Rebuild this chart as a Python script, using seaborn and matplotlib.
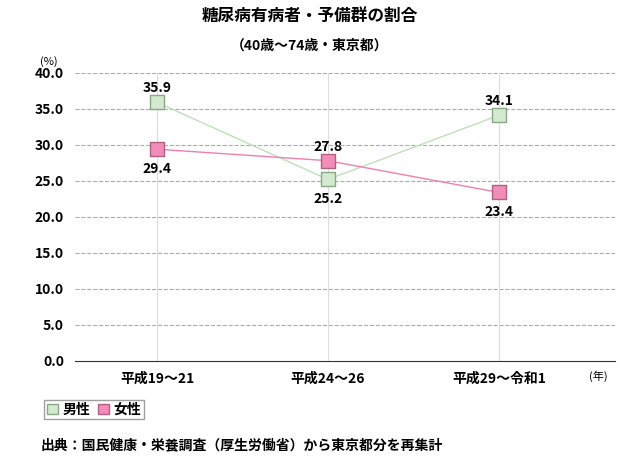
import matplotlib
matplotlib.use("Agg")
import matplotlib.pyplot as plt
import seaborn as sns
import pandas as pd

categories = ["平成19～21", "平成24～26", "平成29～令和1"]
male = [35.9, 25.2, 34.1]
female = [29.4, 27.8, 23.4]
yticks = [0, 5, 10, 15, 20, 25, 30, 35, 40]

plt.rcParams["font.family"] = "Noto Sans CJK JP"
fig = plt.figure(figsize=(6.2, 4.61), dpi=100)
ax = fig.add_axes([0.121, 0.217, 0.871, 0.625])

df = pd.DataFrame({"x": list(range(3)) * 2, "y": male + female,
                   "s": ["男性"] * 3 + ["女性"] * 3})
styles = {"男性": ("#bfe0b6", "#d3ead0", "#8aa886"), "女性": ("#f07fb0", "#f5a3c8", "#b06080")}
for s, (line_c, fill_c, edge_c) in styles.items():
    d = df[df.s == s]
    sns.lineplot(data=d, x="x", y="y", ax=ax, color=line_c, lw=1, zorder=3, legend=False)
    sns.scatterplot(data=d, x="x", y="y", ax=ax, marker="s", s=90, color=fill_c if s == "男性" else "#f28cb8",
                    edgecolor=edge_c, linewidth=1, zorder=4, legend=False)

offsets_m = [10, -14, 10]
offsets_f = [-14, 10, -14]
for i in range(3):
    ax.annotate(f"{male[i]:.1f}", (i, male[i]), xytext=(0, offsets_m[i]), textcoords="offset points",
                ha="center", va="center", fontsize=10, fontweight="bold")
    ax.annotate(f"{female[i]:.1f}", (i, female[i]), xytext=(0, offsets_f[i]), textcoords="offset points",
                ha="center", va="center", fontsize=10, fontweight="bold")

ax.set_xlim(-0.48, 2.68)
ax.set_ylim(0, 40)
ax.set_yticks(yticks)
ax.set_yticklabels([f"{v:.1f}" for v in yticks], fontsize=10, fontweight="bold")
ax.set_xticks(range(3))
ax.set_xticklabels(categories, fontsize=10, fontweight="bold")
ax.tick_params(length=0, pad=8)
ax.set_xlabel(""); ax.set_ylabel("")
for y in yticks[1:]:
    ax.axhline(y, color="#aaaaaa", ls="--", lw=0.8, zorder=1)
for x in range(3):
    ax.axvline(x, color="#dddddd", lw=0.8, zorder=1)
for k in ["top", "right", "left"]:
    ax.spines[k].set_visible(False)
ax.spines["bottom"].set_color("#333333")

fig.text(0.5, 0.965, "糖尿病有病者・予備群の割合", ha="center", va="center", fontsize=12, fontweight="bold")
fig.text(0.5, 0.9, "（40歳～74歳・東京都）", ha="center", va="center", fontsize=10, fontweight="bold")
fig.text(0.065, 0.86, "(%)", fontsize=8)
fig.text(0.965, 0.175, "(年)", fontsize=8, ha="center")

from matplotlib.patches import Patch
h = [Patch(facecolor="#d3ead0", edgecolor="#8aa886"), Patch(facecolor="#f28cb8", edgecolor="#b06080")]
fig.legend(h, ["男性", "女性"], loc="lower left", bbox_to_anchor=(0.06, 0.075), ncol=2, frameon=True,
           fancybox=False, edgecolor="#888888", handlelength=0.8, handleheight=0.8, handletextpad=0.3,
           columnspacing=0.6, borderpad=0.2, prop={"weight": "bold", "size": 10})
fig.text(0.065, 0.035, "出典：国民健康・栄養調査（厚生労働省）から東京都分を再集計", fontsize=10, fontweight="bold", va="center")
fig.savefig("out.png", dpi=100)
